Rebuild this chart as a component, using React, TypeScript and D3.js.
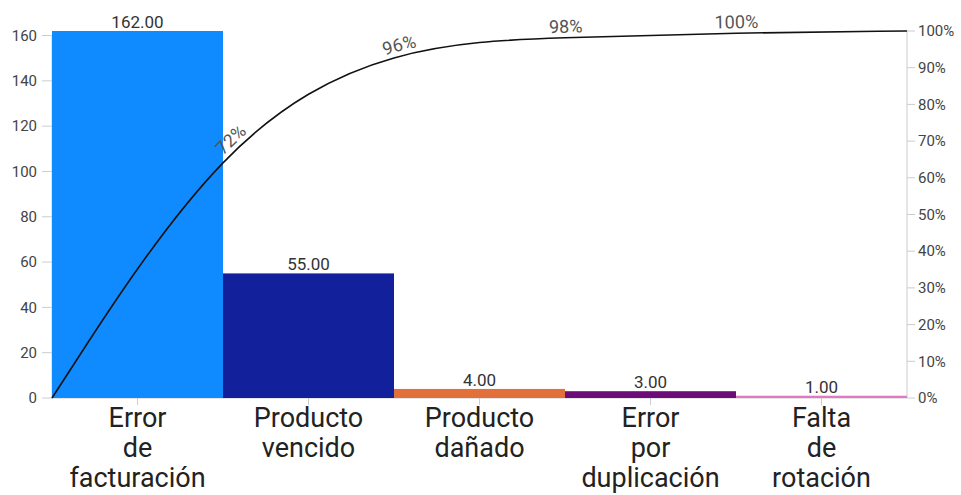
import React, { useEffect, useRef } from "react";
import * as d3 from "d3";

// Causes of returns, sorted from most to least frequent
const categories: string[][] = [
  ["Error", "de", "facturación"],
  ["Producto", "vencido"],
  ["Producto", "dañado"],
  ["Error", "por", "duplicación"],
  ["Falta", "de", "rotación"],
];
const counts = [162, 55, 4, 3, 1];
const barColors = ["#108aff", "#13209c", "#e2703a", "#6b0c78", "#e277c4"];
const countTicks = [0, 20, 40, 60, 80, 100, 120, 140, 160];
const percentTicks = [0, 10, 20, 30, 40, 50, 60, 70, 80, 90, 100];

const W = 961;
const H = 495;
const FONT = "Roboto, Arial, sans-serif";

export default function App() {
  const ref = useRef<SVGSVGElement>(null);

  useEffect(() => {
    const svg = d3.select(ref.current);
    svg.selectAll("*").remove();

    const left = 52;
    const right = 907;
    const top = 31;
    const bottom = 398;

    const keys = categories.map((c) => c.join(" "));
    const x = d3.scaleBand<string>().domain(keys).range([left, right]).padding(0);
    const y = d3.scaleLinear().domain([0, d3.max(counts) as number]).range([bottom, top]);
    const yp = d3.scaleLinear().domain([0, 100]).range([bottom, top]);
    const bw = x.bandwidth();

    const total = d3.sum(counts);
    const cumulative = d3.cumsum(counts).map((v) => (v / total) * 100);

    const axisColor = "#cccccc";

    // left axis
    svg.append("line")
      .attr("x1", left).attr("x2", left).attr("y1", y(countTicks[countTicks.length - 1])).attr("y2", bottom)
      .attr("stroke", axisColor);
    const lt = svg.append("g").selectAll("g").data(countTicks).join("g")
      .attr("transform", (d) => `translate(0,${y(d)})`);
    lt.append("line").attr("x1", left - 10).attr("x2", left).attr("stroke", axisColor);
    lt.append("text")
      .attr("x", left - 15).attr("dy", "0.35em").attr("text-anchor", "end")
      .attr("font-family", FONT).attr("font-size", 15).attr("fill", "#444")
      .text((d) => d);

    // right axis
    svg.append("line")
      .attr("x1", right).attr("x2", right).attr("y1", top).attr("y2", bottom)
      .attr("stroke", axisColor);
    const rt = svg.append("g").selectAll("g").data(percentTicks).join("g")
      .attr("transform", (d) => `translate(0,${yp(d)})`);
    rt.append("line").attr("x1", right).attr("x2", right + 8).attr("stroke", axisColor);
    rt.append("text")
      .attr("x", right + 11).attr("dy", "0.35em").attr("text-anchor", "start")
      .attr("font-family", FONT).attr("font-size", 15).attr("fill", "#444")
      .text((d) => `${d}%`);

    // baseline and category ticks
    svg.append("line")
      .attr("x1", left).attr("x2", right).attr("y1", bottom).attr("y2", bottom)
      .attr("stroke", axisColor);
    svg.append("g").selectAll("line").data(keys).join("line")
      .attr("x1", (d) => (x(d) as number) + bw / 2)
      .attr("x2", (d) => (x(d) as number) + bw / 2)
      .attr("y1", bottom).attr("y2", bottom + 7)
      .attr("stroke", axisColor);

    // bars
    svg.append("g").selectAll("rect").data(counts).join("rect")
      .attr("x", (_, i) => x(keys[i]) as number)
      .attr("width", bw)
      .attr("y", (d) => y(d))
      .attr("height", (d) => bottom - y(d))
      .attr("fill", (_, i) => barColors[i]);

    // bar value labels
    const fmt = d3.format(".2f");
    svg.append("g").selectAll("text").data(counts).join("text")
      .attr("x", (_, i) => (x(keys[i]) as number) + bw / 2)
      .attr("y", (d) => y(d) - 3)
      .attr("text-anchor", "middle")
      .attr("font-family", FONT).attr("font-size", 17).attr("fill", "#333")
      .text((d) => fmt(d));

    // category labels, one word per line
    const cl = svg.append("g").selectAll("text").data(categories).join("text")
      .attr("text-anchor", "middle")
      .attr("font-family", FONT).attr("font-size", 27).attr("fill", "#222");
    cl.each(function (words, i) {
      const cx = (x(keys[i]) as number) + bw / 2;
      d3.select(this).selectAll("tspan").data(words).join("tspan")
        .attr("x", cx)
        .attr("y", (_, j) => bottom + 29 + j * 30)
        .text((w) => w);
    });

    // cumulative percentage curve
    const pts: [number, number][] = [[left, yp(0)]];
    cumulative.forEach((c, i) => pts.push([(x(keys[i]) as number) + bw, yp(c)]));
    const line = d3.line().curve(d3.curveBasis);
    const path = svg.append("path")
      .attr("id", "cum-curve")
      .attr("d", line(pts) as string)
      .attr("fill", "none")
      .attr("stroke", "#111")
      .attr("stroke-width", 1.6);

    // percent labels along the curve, at each category's right edge;
    // on steep stretches the label is slid forward so it clears the bar corner
    const node = path.node() as SVGPathElement;
    const len = node.getTotalLength();
    const lengthAtX = (tx: number) => {
      let lo = 0, hi = len;
      for (let k = 0; k < 40; k++) {
        const mid = (lo + hi) / 2;
        if (node.getPointAtLength(mid).x < tx) lo = mid; else hi = mid;
      }
      return (lo + hi) / 2;
    };
    const labelOffset = (tx: number) => {
      const L = lengthAtX(tx);
      const a = node.getPointAtLength(Math.max(0, L - 2));
      const b = node.getPointAtLength(Math.min(len, L + 2));
      const sin = Math.abs(b.y - a.y) / Math.hypot(b.x - a.x, b.y - a.y);
      return L + 30 * sin;
    };
    const labelled = cumulative.slice(0, cumulative.length - 1);
    const lbl = svg.append("g").selectAll("text").data(labelled).join("text")
      .attr("font-family", FONT).attr("font-size", 18).attr("fill", "#555")
      .attr("dy", -5);
    lbl.append("textPath")
      .attr("href", "#cum-curve")
      .attr("text-anchor", "middle")
      .attr("startOffset", (_, i) => labelOffset((x(keys[i]) as number) + bw))
      .text((d) => `${Math.round(d)}%`);
  }, []);

  return (
    <svg
      ref={ref}
      width={W}
      height={H}
      style={{ position: "absolute", left: 0, top: 0, background: "#fff" }}
    />
  );
}
